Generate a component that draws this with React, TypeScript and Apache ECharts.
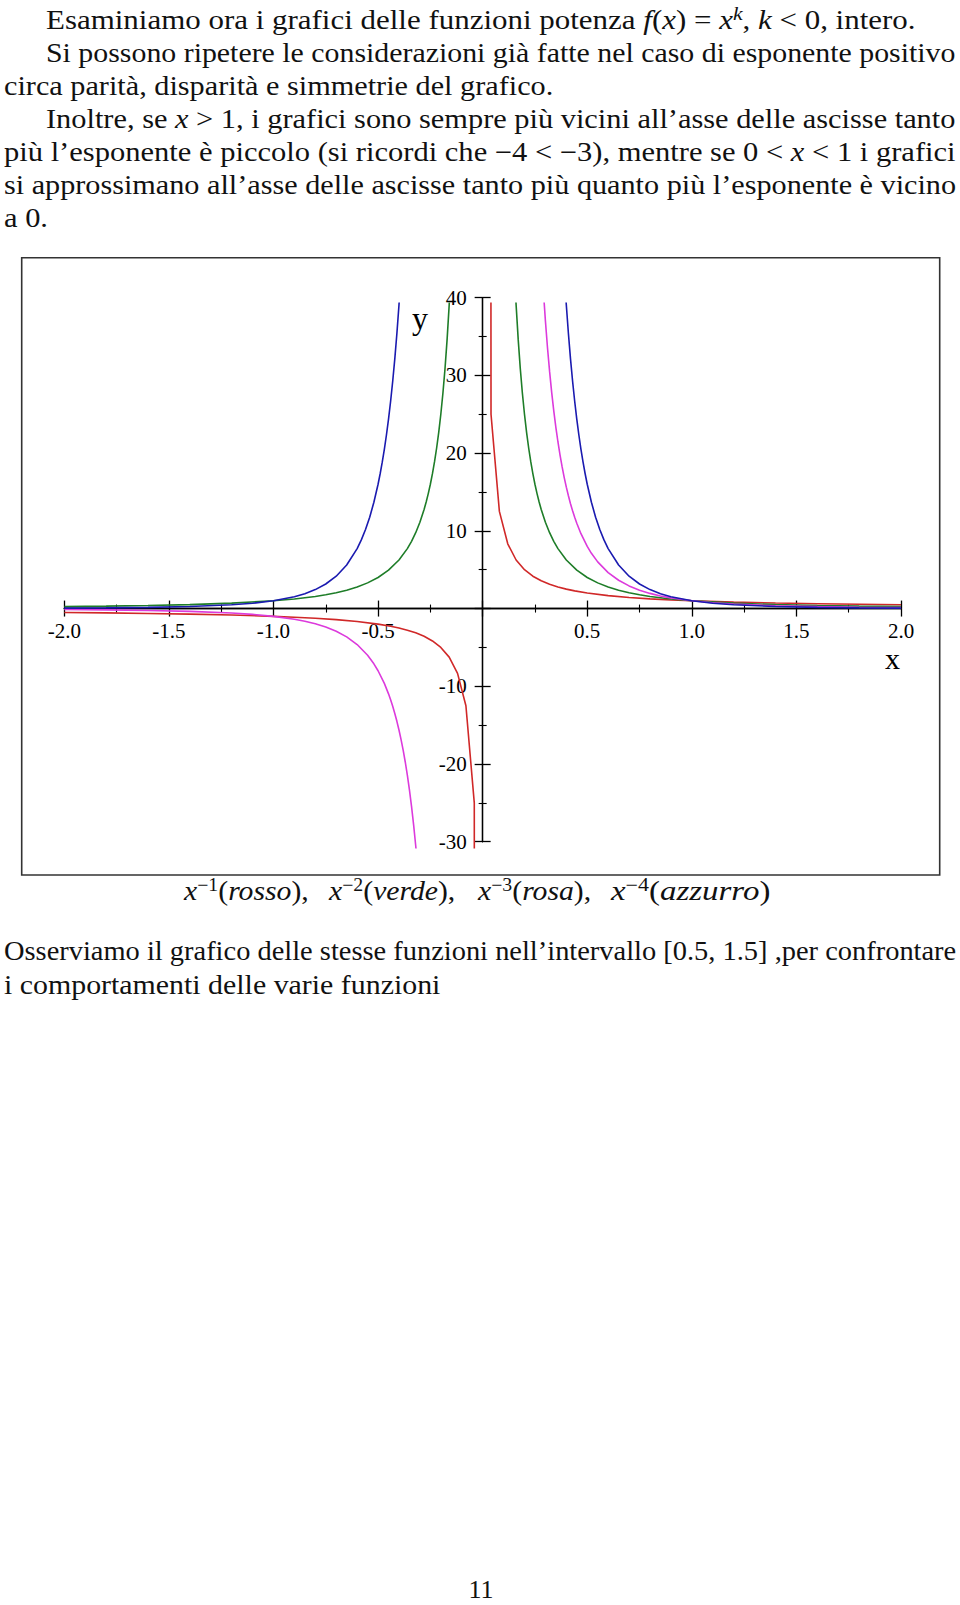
import React, { useEffect, useLayoutEffect, useRef, useState } from "react";
import * as echarts from "echarts";

// ---------- data ----------
// x^-1 (rosso)
const rossoNeg: number[][] = [[-2,-0.5],[-1.8,-0.5556],[-1.6,-0.625],[-1.4,-0.7143],[-1.2,-0.8333],[-1,-1],[-0.9,-1.1111],[-0.8,-1.25],[-0.7,-1.4286],[-0.6,-1.6667],[-0.5,-2],[-0.44,-2.2727],[-0.4,-2.5],[-0.36,-2.7778],[-0.32,-3.125],[-0.28,-3.5714],[-0.24,-4.1667],[-0.2,-5],[-0.16,-6.25],[-0.12,-8.3333],[-0.08,-12.5],[-0.04,-25],[-0.0395,-40]];
const rossoPos: number[][] = [[0.0395,45],[0.04,25],[0.08,12.5],[0.12,8.3333],[0.16,6.25],[0.2,5],[0.24,4.1667],[0.28,3.5714],[0.32,3.125],[0.36,2.7778],[0.4,2.5],[0.44,2.2727],[0.5,2],[0.6,1.6667],[0.7,1.4286],[0.8,1.25],[0.9,1.1111],[1,1],[1.2,0.8333],[1.4,0.7143],[1.6,0.625],[1.8,0.5556],[2,0.5]];
// x^-2 (verde)
const verdeNeg: number[][] = [[-2,0.25],[-1.8,0.3086],[-1.6,0.3906],[-1.4,0.5102],[-1.2,0.6944],[-1,1],[-0.9,1.2346],[-0.8,1.5625],[-0.75,1.7778],[-0.7,2.0408],[-0.65,2.3669],[-0.6,2.7778],[-0.55,3.3058],[-0.5,4],[-0.45,4.9383],[-0.4,6.25],[-0.36,7.716],[-0.34,8.6505],[-0.32,9.7656],[-0.3,11.1111],[-0.28,12.7551],[-0.27,13.7174],[-0.26,14.7929],[-0.25,16],[-0.24,17.3611],[-0.23,18.9036],[-0.22,20.6612],[-0.21,22.6757],[-0.2,25],[-0.19,27.7008],[-0.18,30.8642],[-0.17,34.6021],[-0.16,39.0625],[-0.15,44.4444]];
const verdePos: number[][] = [[0.15,44.4444],[0.16,39.0625],[0.17,34.6021],[0.18,30.8642],[0.19,27.7008],[0.2,25],[0.21,22.6757],[0.22,20.6612],[0.23,18.9036],[0.24,17.3611],[0.25,16],[0.26,14.7929],[0.27,13.7174],[0.28,12.7551],[0.3,11.1111],[0.32,9.7656],[0.34,8.6505],[0.36,7.716],[0.4,6.25],[0.45,4.9383],[0.5,4],[0.55,3.3058],[0.6,2.7778],[0.65,2.3669],[0.7,2.0408],[0.75,1.7778],[0.8,1.5625],[0.9,1.2346],[1,1],[1.2,0.6944],[1.4,0.5102],[1.6,0.3906],[1.8,0.3086],[2,0.25]];
// x^-3 (rosa)
const rosaNeg: number[][] = [[-2,-0.125],[-1.8,-0.1715],[-1.6,-0.2441],[-1.4,-0.3644],[-1.2,-0.5787],[-1.1,-0.7513],[-1,-1],[-0.9,-1.3717],[-0.85,-1.6283],[-0.8,-1.9531],[-0.75,-2.3704],[-0.7,-2.9155],[-0.65,-3.6413],[-0.6,-4.6296],[-0.55,-6.0105],[-0.52,-7.112],[-0.5,-8],[-0.47,-9.6318],[-0.45,-10.9739],[-0.44,-11.7393],[-0.43,-12.5775],[-0.42,-13.4975],[-0.41,-14.5094],[-0.4,-15.625],[-0.39,-16.858],[-0.38,-18.2242],[-0.37,-19.7422],[-0.36,-21.4335],[-0.35,-23.3236],[-0.34,-25.4427],[-0.33,-27.8265],[-0.32,-30.5176],[-0.31,-33.5672]];
const rosaPos: number[][] = [[0.29,41.0029],[0.3,37.037],[0.31,33.5672],[0.32,30.5176],[0.33,27.8265],[0.34,25.4427],[0.35,23.3236],[0.36,21.4335],[0.37,19.7422],[0.38,18.2242],[0.39,16.858],[0.4,15.625],[0.41,14.5094],[0.42,13.4975],[0.43,12.5775],[0.44,11.7393],[0.45,10.9739],[0.47,9.6318],[0.5,8],[0.52,7.112],[0.55,6.0105],[0.6,4.6296],[0.65,3.6413],[0.7,2.9155],[0.75,2.3704],[0.8,1.9531],[0.85,1.6283],[0.9,1.3717],[1,1],[1.1,0.7513],[1.2,0.5787],[1.4,0.3644],[1.6,0.2441],[1.8,0.1715],[2,0.125]];
// x^-4 (azzurro)
const azzurroNeg: number[][] = [[-2,0.0625],[-1.8,0.0953],[-1.6,0.1526],[-1.4,0.2603],[-1.2,0.4823],[-1.1,0.683],[-1,1],[-0.9,1.5242],[-0.85,1.9157],[-0.8,2.4414],[-0.75,3.1605],[-0.7,4.1649],[-0.65,5.602],[-0.6,7.716],[-0.58,8.8367],[-0.56,10.168],[-0.54,11.761],[-0.52,13.677],[-0.5,16],[-0.49,17.347],[-0.48,18.838],[-0.47,20.493],[-0.46,22.334],[-0.45,24.386],[-0.44,26.68],[-0.43,29.25],[-0.42,32.137],[-0.41,35.389],[-0.4,39.0625],[-0.39,43.2258]];
const azzurroPos: number[][] = [[0.39,43.2258],[0.4,39.0625],[0.41,35.389],[0.42,32.137],[0.43,29.25],[0.44,26.68],[0.45,24.386],[0.46,22.334],[0.47,20.493],[0.48,18.838],[0.49,17.347],[0.5,16],[0.52,13.677],[0.54,11.761],[0.56,10.168],[0.58,8.8367],[0.6,7.716],[0.65,5.602],[0.7,4.1649],[0.75,3.1605],[0.8,2.4414],[0.85,1.9157],[0.9,1.5242],[1,1],[1.1,0.683],[1.2,0.4823],[1.4,0.2603],[1.6,0.1526],[1.8,0.0953],[2,0.0625]];

const curveNames = ["x^-1 (rosso)", "x^-2 (verde)", "x^-3 (rosa)", "x^-4 (azzurro)"];
const curveColors = ["#d02828", "#1e7d28", "#dc3adc", "#1a1ab0"];
const curveData = [[rossoNeg, rossoPos], [verdeNeg, verdePos], [rosaNeg, rosaPos], [azzurroNeg, azzurroPos]];

const xTickRange = [-2, 2];
const yTickRange = [-30, 40];

const captionExps = ["−1", "−2", "−3", "−4"];
const captionWords = ["rosso", "verde", "rosa", "azzurro"];
const captionTails = ["),", "),", "),", ")"];

// text lines: *...* italic, ^...^ superscript (italic)
const topLines = [
  "Esaminiamo ora i grafici delle funzioni potenza *f*(*x*) = *x*^k^, *k* < 0, intero.",
  "Si possono ripetere le considerazioni già fatte nel caso di esponente positivo",
  "circa parità, disparità e simmetrie del grafico.",
  "Inoltre, se *x* > 1, i grafici sono sempre più vicini all’asse delle ascisse tanto",
  "più l’esponente è piccolo (si ricordi che −4 < −3), mentre se 0 < *x* < 1 i grafici",
  "si approssimano all’asse delle ascisse tanto più quanto più l’esponente è vicino",
  "a 0.",
];
const bottomLines = [
  "Osserviamo il grafico delle stesse funzioni nell’intervallo [0.5, 1.5] ,per confrontare",
  "i comportamenti delle varie funzioni",
];
const pageNumber = "11";

// ---------- layout ----------
const topLayout = [
  { l: 46, r: 916, cy: 19.5 },
  { l: 46, r: 956, cy: 52.5 },
  { l: 4, r: 553, cy: 85.5 },
  { l: 46, r: 956, cy: 118.5 },
  { l: 4, r: 956, cy: 152 },
  { l: 4, r: 956, cy: 185 },
  { l: 4, r: 48, cy: 218 },
];
const bottomLayout = [
  { l: 4, r: 956, cy: 951 },
  { l: 4, r: 440, cy: 985 },
];
const captionX = [184, 329, 478, 611];
const captionScale = [1.1, 1.1, 1.1, 1.22];

const FONT = '"Liberation Serif", serif';
const EFONT = "Liberation Serif";

// plot geometry
const G = { left: 64.3, top: 297.7, width: 836.7, height: 544 };
const zeroY = G.top + (G.height * yTickRange[1]) / (yTickRange[1] - yTickRange[0]);
const zeroX = G.left + (G.width * (0 - xTickRange[0])) / (xTickRange[1] - xTickRange[0]);

function renderParts(w: string) {
  const parts: React.ReactNode[] = [];
  const re = /(\*[^*]+\*|\^[^^]+\^)/g;
  let last = 0;
  let m: RegExpExecArray | null;
  let k = 0;
  while ((m = re.exec(w)) !== null) {
    if (m.index > last) parts.push(<span key={k++}>{w.slice(last, m.index)}</span>);
    const tok = m[0];
    if (tok[0] === "*") parts.push(<i key={k++}>{tok.slice(1, -1)}</i>);
    else
      parts.push(
        <sup key={k++} style={{ fontSize: "0.7em", fontStyle: "italic", lineHeight: 0, verticalAlign: "0.5em" }}>
          {tok.slice(1, -1)}
        </sup>
      );
    last = m.index + tok.length;
  }
  if (last < w.length) parts.push(<span key={k++}>{w.slice(last)}</span>);
  return parts;
}

function Line({ text, l, r, cy }: { text: string; l: number; r: number; cy: number }) {
  const spanRef = useRef<HTMLSpanElement>(null);
  const [scale, setScale] = useState(1);
  useLayoutEffect(() => {
    if (spanRef.current) {
      const w = spanRef.current.offsetWidth;
      if (w > 0) setScale((r - l) / w);
    }
  }, [r, l, text]);
  return (
    <div
      style={{
        position: "absolute",
        left: l,
        top: cy - 17,
        height: 34,
        lineHeight: "34px",
        whiteSpace: "pre",
        fontFamily: FONT,
        fontSize: 27,
        color: "#111",
      }}
    >
      <span
        ref={spanRef}
        style={{ display: "inline-block", transformOrigin: "0 50%", transform: `scaleX(${scale})` }}
      >
        {renderParts(text)}
      </span>
    </div>
  );
}

function buildOption() {
  const axisLineStyle = { color: "#000", width: 1.3 };
  const tick = { show: true, length: 8, lineStyle: { color: "#000", width: 1.3 } };
  const minor = { show: true, splitNumber: 2, length: 4, lineStyle: { color: "#000", width: 1.1 } };
  const series: any[] = [];
  curveData.forEach((branches, i) => {
    branches.forEach((d) => {
      series.push({
        type: "line",
        name: curveNames[i],
        xAxisIndex: 2,
        yAxisIndex: 2,
        data: d,
        showSymbol: false,
        symbol: "none",
        clip: true,
        lineStyle: { color: curveColors[i], width: 1.6 },
        itemStyle: { color: curveColors[i] },
        z: 3 + i,
        silent: true,
      });
    });
  });

  const captionGraphics = captionWords.map((w, i) => ({
    type: "text",
    x: captionX[i],
    y: 891,
    scaleX: captionScale[i],
    style: {
      text: `{i|x}{s|${captionExps[i]}}{u|(}{i|${w}}{u|${captionTails[i]}}`,
      align: "left",
      verticalAlign: "middle",
      textAlign: "left",
      textVerticalAlign: "middle",
      fill: "#111",
      rich: {
        i: { fontFamily: EFONT, fontStyle: "italic", fontSize: 27, lineHeight: 30, verticalAlign: "middle", fill: "#111", color: "#111" },
        u: { fontFamily: EFONT, fontSize: 27, lineHeight: 30, verticalAlign: "middle", fill: "#111", color: "#111" },
        s: { fontFamily: EFONT, fontSize: 18, lineHeight: 14, verticalAlign: "top", fill: "#111", color: "#111" },
      },
    },
  }));

  const bottomY = G.top + G.height;
  const rightX = G.left + G.width;

  return {
    animation: false,
    backgroundColor: "transparent",
    grid: [
      { left: G.left, top: G.top, width: G.width, height: G.height, outerBoundsMode: "none", containLabel: false },
      { left: G.left, top: 303.3, width: G.width, height: 544.4, outerBoundsMode: "none", containLabel: false },
    ],
    xAxis: [
      {
        gridIndex: 0, type: "value", min: xTickRange[0], max: xTickRange[1], interval: 0.5, position: "bottom",
        offset: -(bottomY - zeroY),
        axisLine: { show: true, onZero: false, lineStyle: axisLineStyle },
        axisTick: tick, minorTick: minor,
        axisLabel: {
          show: true, margin: 12, fontFamily: EFONT, fontSize: 21, color: "#000",
          formatter: (v: number) => (Math.abs(v) < 1e-9 ? "" : v.toFixed(1)),
        },
        splitLine: { show: false }, minorSplitLine: { show: false },
      },
      {
        gridIndex: 0, type: "value", min: xTickRange[0], max: xTickRange[1], interval: 0.5, position: "top",
        offset: -(zeroY - G.top),
        axisLine: { show: true, onZero: false, lineStyle: axisLineStyle },
        axisTick: tick, minorTick: minor,
        axisLabel: { show: false },
        splitLine: { show: false }, minorSplitLine: { show: false },
      },
      { gridIndex: 1, type: "value", min: -2, max: 2, show: false, axisLine: { onZero: false } },
    ],
    yAxis: [
      {
        gridIndex: 0, type: "value", min: yTickRange[0], max: yTickRange[1], interval: 10, position: "left",
        offset: -(zeroX - G.left),
        axisLine: { show: true, onZero: false, lineStyle: axisLineStyle },
        axisTick: tick, minorTick: minor,
        axisLabel: {
          show: true, margin: 16, fontFamily: EFONT, fontSize: 21, color: "#000", padding: [5, 0, 0, 0],
          formatter: (v: number) => (Math.abs(v) < 1e-9 ? "" : String(v)),
        },
        splitLine: { show: false }, minorSplitLine: { show: false },
      },
      {
        gridIndex: 0, type: "value", min: yTickRange[0], max: yTickRange[1], interval: 10, position: "right",
        offset: -(rightX - zeroX),
        axisLine: { show: true, onZero: false, lineStyle: axisLineStyle },
        axisTick: tick, minorTick: minor,
        axisLabel: { show: false },
        splitLine: { show: false }, minorSplitLine: { show: false },
      },
      { gridIndex: 1, type: "value", min: -30.77, max: 39.28, show: false, axisLine: { onZero: false } },
    ],
    series,
    graphic: [
      {
        type: "rect",
        shape: { x: 21.7, y: 257.7, width: 918, height: 617.3 },
        style: { fill: "none", stroke: "#333", lineWidth: 1.6 },
        silent: true,
        z: 1,
      },
      {
        type: "text", x: 420, y: 318,
        style: { text: "y", fontFamily: EFONT, fontSize: 32, lineHeight: 20, fill: "#000", align: "center", verticalAlign: "middle", textAlign: "center", textVerticalAlign: "middle" },
      },
      {
        type: "text", x: 892.5, y: 658,
        style: { text: "x", fontFamily: EFONT, fontSize: 30, lineHeight: 16, fill: "#000", align: "center", verticalAlign: "middle", textAlign: "center", textVerticalAlign: "middle" },
      },
      ...captionGraphics,
    ],
  };
}

export default function App() {
  const ref = useRef<HTMLDivElement>(null);
  useEffect(() => {
    if (!ref.current) return;
    const chart = echarts.init(ref.current, null, { renderer: "svg" });
    chart.setOption(buildOption() as any);
    return () => chart.dispose();
  }, []);
  return (
    <div style={{ position: "absolute", left: 0, top: 0, width: 960, height: 1605, overflow: "hidden", background: "#fff" }}>
      <div ref={ref} style={{ position: "absolute", left: 0, top: 0, width: 960, height: 1605 }} />
      {topLines.map((t, i) => (
        <Line key={"t" + i} text={t} {...topLayout[i]} />
      ))}
      {bottomLines.map((t, i) => (
        <Line key={"b" + i} text={t} {...bottomLayout[i]} />
      ))}
      <div
        style={{
          position: "absolute", left: 441, top: 1579, width: 80, height: 22, lineHeight: "22px",
          textAlign: "center", fontFamily: FONT, fontSize: 26, color: "#111",
        }}
      >
        {pageNumber}
      </div>
    </div>
  );
}
